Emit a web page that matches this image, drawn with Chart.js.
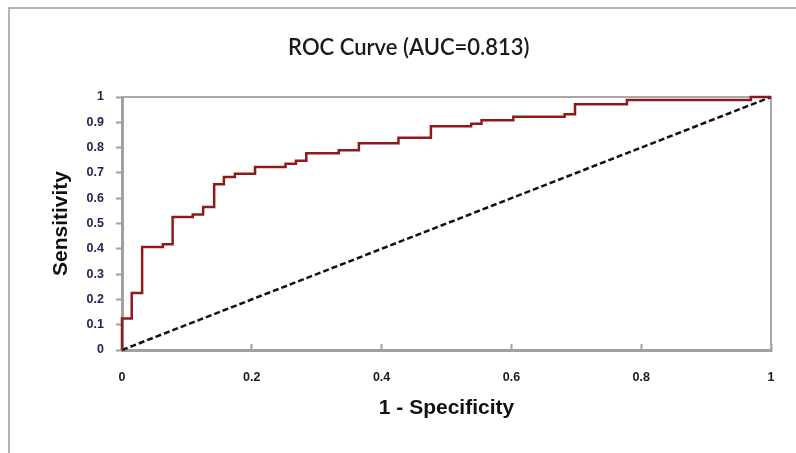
<!DOCTYPE html>
<html>
<head>
<meta charset="utf-8">
<title>ROC Curve</title>
<script src="https://cdn.jsdelivr.net/npm/chart.js@4.4.1/dist/chart.umd.min.js"></script>
<style>
    body {
        margin: 0;
        background: #ffffff;
    }

    #frame {
        position: absolute;
        left: 8px;
        top: 7px;
        width: 800px;
        height: 460px;
        border-left: 2px solid #b4b4b4;
        border-top: 2px solid #b4b4b4;
    }

    #wrap {
        position: absolute;
        left: 0;
        top: 0;
        width: 796px;
        height: 453px;
    }
</style>
</head>
<body>

<div id="frame"></div>
<div id="wrap">
    <canvas id="rocChart"></canvas>
</div>

<script>
/* ==========================================
   DATA
========================================== */

// ROC curve: x where each step happens, and sensitivity after the step
const fpr = [0, 0, 0.015, 0.031, 0.063, 0.078, 0.109, 0.125, 0.142, 0.157,
    0.174, 0.205, 0.252, 0.268, 0.284, 0.334, 0.365, 0.426, 0.476, 0.538,
    0.554, 0.603, 0.682, 0.698, 0.778, 0.969, 1];

const tpr = [0, 0.125, 0.225, 0.407, 0.418, 0.526, 0.536, 0.565, 0.655, 0.684,
    0.697, 0.723, 0.736, 0.748, 0.778, 0.790, 0.817, 0.839, 0.884, 0.894,
    0.908, 0.922, 0.932, 0.971, 0.988, 1, 1];

// Chance line
const diagX = [0, 1];
const diagY = [0, 1];

// Tick labels
const xTickLabels = ["0", "0.2", "0.4", "0.6", "0.8", "1"];
const yTickLabels = ["0", "0.1", "0.2", "0.3", "0.4", "0.5", "0.6", "0.7", "0.8", "0.9", "1"];

const chartTitle = "ROC Curve (AUC=0.813)";


/* ==========================================
   PLOT BORDER (top and right side)
========================================== */

const plotBorder = {

    id: "plotBorder",

    beforeDatasetsDraw(chart) {

        const { ctx, chartArea } = chart;

        ctx.save();
        ctx.strokeStyle = "#a8a8a8";
        ctx.lineWidth = 2;
        ctx.beginPath();
        ctx.moveTo(chartArea.left, chartArea.top);
        ctx.lineTo(chartArea.right, chartArea.top);
        ctx.lineTo(chartArea.right, chartArea.bottom);
        ctx.stroke();
        ctx.restore();

    }

};


/* ==========================================
   CHART
========================================== */

new Chart(document.getElementById("rocChart"), {

    type: "line",

    data: {

        datasets: [{

            label: "ROC",

            data: fpr.map((x, i) => ({ x: x, y: tpr[i] })),

            borderColor: "#8e1b1b",

            borderWidth: 2.5,

            stepped: true,

            pointRadius: 0,

            clip: false

        }, {

            label: "Chance",

            data: diagX.map((x, i) => ({ x: x, y: diagY[i] })),

            borderColor: "#111111",

            borderWidth: 2.5,

            borderDash: [6, 3],

            pointRadius: 0,

            clip: false

        }]

    },

    plugins: [plotBorder],

    options: {

        responsive: true,

        maintainAspectRatio: false,

        animation: false,

        layout: {

            padding: { left: 46.6, right: 25, top: 0, bottom: 0 }

        },

        plugins: {

            legend: { display: false },

            tooltip: { enabled: false },

            title: {

                display: true,

                text: chartTitle,

                color: "#1a1a1a",

                font: { family: "Lato, 'Open Sans', sans-serif", size: 22, weight: "600" },

                padding: { top: 34.8, bottom: 35.8 }

            }

        },

        scales: {

            x: {

                type: "linear",

                min: 0,

                max: 1,

                afterFit(scale) {
                    scale.height = 103;
                    scale.paddingLeft = 4;
                    scale.paddingRight = 4;
                },

                ticks: {

                    stepSize: 0.2,

                    padding: 26,

                    color: "#1a1a1a",

                    font: { family: "'Liberation Sans', Arial, sans-serif", size: 12.5, weight: "bold" },

                    callback: (value, index) => xTickLabels[index]

                },

                grid: {

                    drawOnChartArea: false,

                    tickLength: -6,

                    tickWidth: 2,

                    color: "#a0a0a0"

                },

                border: { color: "#a0a0a0", width: 3 },

                title: {

                    display: true,

                    text: "1 - Specificity",

                    color: "#111111",

                    font: { family: "'Liberation Sans', Arial, sans-serif", size: 21, weight: "bold" },

                    padding: { top: 0, bottom: 32.4 }

                }

            },

            y: {

                min: 0,

                max: 1,

                afterFit(scale) { scale.width = 75.4; },

                ticks: {

                    stepSize: 0.1,

                    padding: 12,

                    color: "#202552",

                    font: { family: "'Liberation Sans', Arial, sans-serif", size: 12.5, weight: "bold" },

                    callback: (value, index) => yTickLabels[index]

                },

                grid: {

                    drawOnChartArea: false,

                    tickLength: 6,

                    tickWidth: 2,

                    color: "#a0a0a0"

                },

                border: { color: "#a0a0a0", width: 3 },

                title: {

                    display: true,

                    text: "Sensitivity",

                    color: "#111111",

                    font: { family: "'Liberation Sans', Arial, sans-serif", size: 21, weight: "bold" },

                    padding: { top: 1.8, bottom: 0 }

                }

            }

        }

    }

});
</script>

</body>
</html>
